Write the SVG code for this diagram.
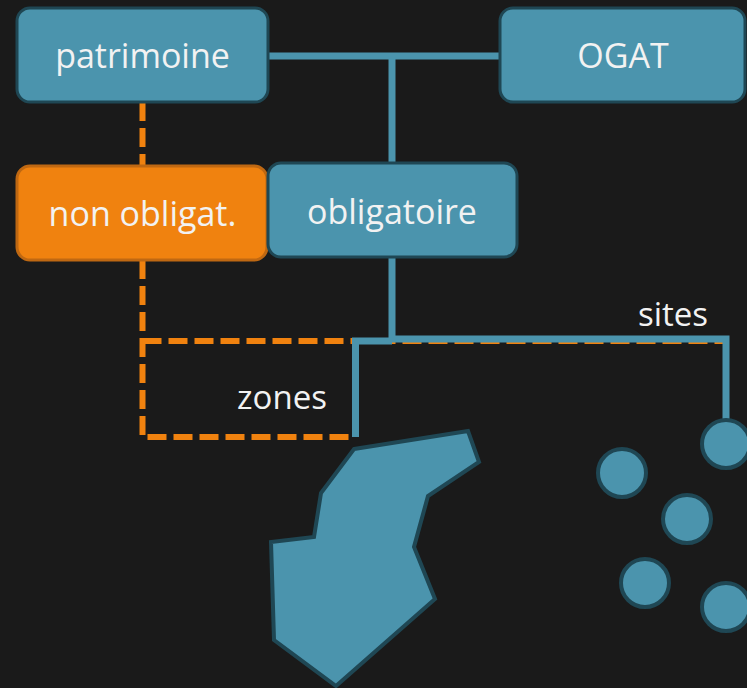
<svg xmlns="http://www.w3.org/2000/svg" width="747" height="688" viewBox="0 0 747 688">
<style>
.box{fill:#4b94ad;stroke:#1f4754;stroke-width:3}
.obox{fill:#f0820f;stroke:#bf6812;stroke-width:3}
.lbl{font-family:"Open Sans","Liberation Sans",sans-serif;font-size:34px;fill:#f2f2f2;text-anchor:middle}
.sm{font-size:33px}
.blue{fill:none;stroke:#4b94ad;stroke-width:7}
.orange{fill:none;stroke:#f0820f;stroke-width:6;stroke-dasharray:19 7}
.shape{fill:#4b94ad;stroke:#1f4754;stroke-width:4;stroke-linejoin:miter}
</style>
<rect x="0" y="0" width="747" height="688" fill="#1a1a1a"/>
<g id="connectors">
<path class="orange" d="M142.5,102 V166"/>
<path class="orange" d="M142.5,260 V437 H350"/>
<path class="orange" d="M142.5,341 H724"/>
<path class="blue" d="M268,56 H500"/>
<path class="blue" d="M392,56 V163"/>
<path class="blue" d="M392,257 V339 H726 V421"/>
<path class="blue" d="M392,341 H355.5 V437"/>
</g>
<g id="patrimoine"><rect class="box" x="17" y="8" width="251" height="94" rx="13"/><text class="lbl" x="142.5" y="68">patrimoine</text></g>
<g id="ogat"><rect class="box" x="500" y="8" width="245" height="94" rx="13"/><text class="lbl" x="623" y="68">OGAT</text></g>
<g id="non-obligat"><rect class="obox" x="17" y="166" width="250" height="94" rx="13"/><text class="lbl" x="142.5" y="226">non obligat.</text></g>
<g id="obligatoire"><rect class="box" x="268" y="163" width="249" height="94" rx="13"/><text class="lbl" x="392" y="224">obligatoire</text></g>
<g id="zones-label"><text class="lbl sm" x="282" y="409">zones</text></g>
<g id="sites-label"><text class="lbl sm" x="673" y="326">sites</text></g>
<g id="zone-shape"><polygon class="shape" points="354,449 468,431 479,462 428,496 414,547 435,599 336,686 274,640 271,542 314,537 321,493"/></g>
<g id="sites">
<circle class="shape" cx="622" cy="473" r="24"/>
<circle class="shape" cx="726" cy="444" r="24"/>
<circle class="shape" cx="687" cy="519" r="24"/>
<circle class="shape" cx="645" cy="583" r="24"/>
<circle class="shape" cx="726" cy="607" r="24"/>
</g>
</svg>
